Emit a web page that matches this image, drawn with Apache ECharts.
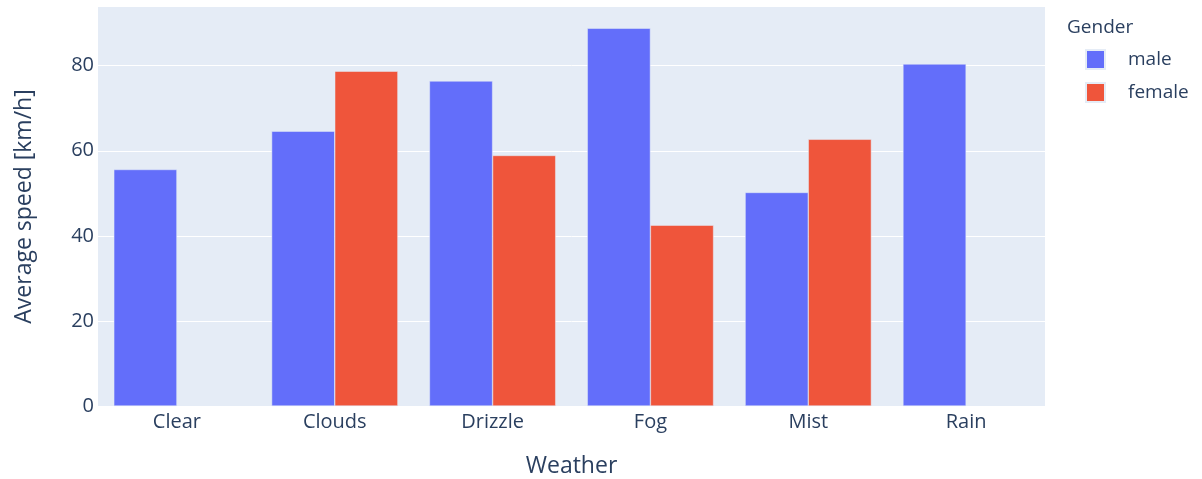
<!DOCTYPE html>
<html>
<head>
<meta charset="utf-8">
<script src="https://cdn.jsdelivr.net/npm/echarts@6/dist/echarts.min.js"></script>
<style>
html,body{margin:0;padding:0;background:#fff;}
#chart{width:1202px;height:479px;}
</style>
</head>
<body>
<div id="chart"></div>
<script>
const categories = ['Clear', 'Clouds', 'Drizzle', 'Fog', 'Mist', 'Rain'];
const maleSpeed = [55.6, 64.6, 76.4, 88.8, 50.2, 80.4];
const femaleSpeed = [null, 78.7, 58.9, 42.5, 62.7, null];
const seriesNames = ['male', 'female'];
const yTicks = [0, 20, 40, 60, 80];

const font = 'Open Sans';
const txt = '#2a3f5f';
const chart = echarts.init(document.getElementById('chart'), null, {renderer: 'canvas'});
chart.setOption({
  animation: false,
  textStyle: {fontFamily: font},
  title: {
    text: 'Gender', left: 1062, top: 13,
    textStyle: {fontFamily: font, fontSize: 19, fontWeight: 'normal', color: txt}
  },
  legend: {
    orient: 'vertical', left: 1080, top: 44,
    itemWidth: 19, itemHeight: 19, itemGap: 12,
    icon: 'rect',
    data: seriesNames,
    textStyle: {fontFamily: font, fontSize: 19, color: txt, padding: [0, 0, 0, 18]}
  },
  grid: {
    left: 98, right: 157, top: 7, bottom: 73,
    outerBoundsMode: 'none', containLabel: false,
    show: true, backgroundColor: '#E5ECF6', borderWidth: 0
  },
  xAxis: {
    type: 'category', data: categories,
    name: 'Weather', nameLocation: 'middle', nameGap: 49,
    nameTextStyle: {fontFamily: font, fontSize: 23, color: txt},
    axisLine: {show: false}, axisTick: {show: false},
    axisLabel: {fontFamily: font, fontSize: 20, color: txt, margin: 6},
    splitLine: {show: false}
  },
  yAxis: {
    type: 'value', min: 0, max: 93.8, interval: 20,
    name: 'Average speed [km/h]', nameLocation: 'middle', nameGap: 62,
    nameTextStyle: {fontFamily: font, fontSize: 23, color: txt},
    axisLine: {show: false}, axisTick: {show: false},
    axisLabel: {fontFamily: font, fontSize: 20, color: txt, margin: 4, showMaxLabel: false,
      formatter: v => (yTicks.indexOf(v) >= 0 ? String(v) : '')},
    splitLine: {show: true, showMaxLine: false, lineStyle: {color: '#ffffff', width: 1}}
  },
  series: [
    {
      name: seriesNames[0], type: 'bar', data: maleSpeed,
      barGap: '0%', barCategoryGap: '20%',
      itemStyle: {color: '#636EFA', borderColor: '#E5ECF6', borderWidth: 0.5}
    },
    {
      name: seriesNames[1], type: 'bar', data: femaleSpeed,
      barGap: '0%', barCategoryGap: '20%',
      itemStyle: {color: '#EF553B', borderColor: '#E5ECF6', borderWidth: 0.5}
    }
  ]
});
</script>
</body>
</html>
